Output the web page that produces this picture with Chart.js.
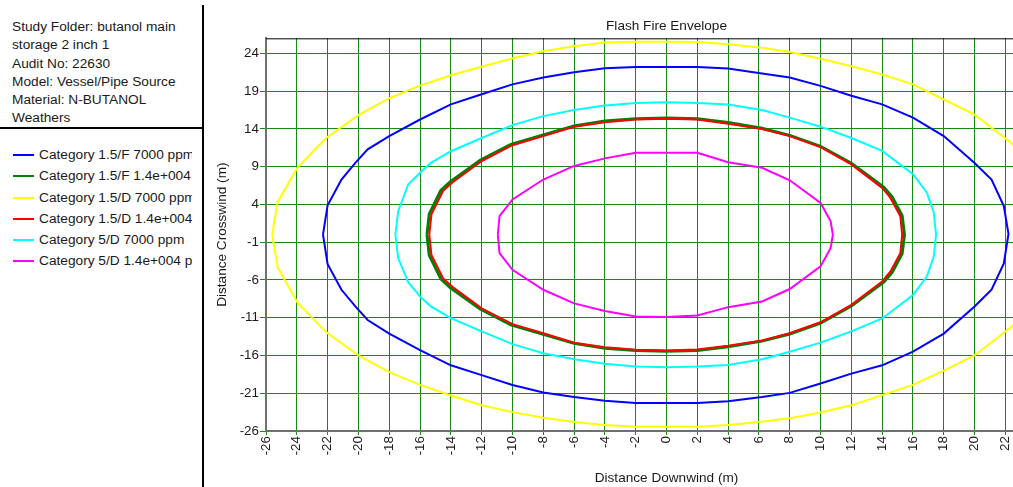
<!DOCTYPE html>
<html>
<head>
<meta charset="utf-8">
<title>Flash Fire Envelope</title>
<script src="https://cdn.jsdelivr.net/npm/chart.js@4.4.0/dist/chart.umd.min.js"></script>
<style>
    html, body {
        margin: 0;
        padding: 0;
        width: 1013px;
        height: 487px;
        overflow: hidden;
        background: #fff;
        font-family: 'Liberation Sans', Arial, sans-serif;
        color: #1a1a1a;
    }
    .info {
        position: absolute;
        left: 12px;
        top: 18px;
        font-size: 13.7px;
        line-height: 18.3px;
        white-space: nowrap;
    }
    .rule-h {
        position: absolute;
        left: 0;
        top: 127px;
        width: 204px;
        height: 2px;
        background: #000;
    }
    .rule-v {
        position: absolute;
        left: 202px;
        top: 5px;
        width: 2px;
        height: 482px;
        background: #000;
    }
    .legend {
        position: absolute;
        left: 13px;
        top: 144px;
        width: 179px;
        overflow: hidden;
        font-size: 13.7px;
    }
    .legend-row {
        position: relative;
        height: 21.3px;
        line-height: 21.3px;
        white-space: nowrap;
    }
    .legend-row span.swatch {
        position: absolute;
        left: 0;
        top: 10px;
        width: 21px;
        height: 2px;
    }
    .legend-row span.label {
        position: absolute;
        left: 26px;
    }
    .chart-box {
        position: absolute;
        left: 205px;
        top: 0;
    }
</style>
</head>
<body>
<div class="info" id="info"></div>
<div class="rule-h"></div>
<div class="rule-v"></div>
<div class="legend" id="legend"></div>
<div class="chart-box"><canvas id="envelopeChart" width="862" height="487"></canvas></div>

<script>
// Header text of the study panel
const infoLines = [
    'Study Folder: butanol main',
    'storage 2 inch 1',
    'Audit No: 22630',
    'Model: Vessel/Pipe Source',
    'Material: N-BUTANOL',
    'Weathers'
];

// Axis ticks
const xTicks = [-26, -24, -22, -20, -18, -16, -14, -12, -10, -8, -6, -4, -2, 0, 2, 4, 6, 8, 10, 12, 14, 16, 18, 20, 22, 24, 26];
const yTicks = [-26, -21, -16, -11, -6, -1, 4, 9, 14, 19, 24];

// Series names (legend order)
const seriesNames = [
    'Category 1.5/F 7000 ppm',
    'Category 1.5/F 1.4e+004 ppm',
    'Category 1.5/D 7000 ppm',
    'Category 1.5/D 1.4e+004 ppm',
    'Category 5/D 7000 ppm',
    'Category 5/D 1.4e+004 ppm'
];

// Envelope outlines, [downwind m, crosswind m]
const f15Low = [
    [-22.3, 0], [-22.0, 3.9], [-21.1, 7.3], [-20.2, 9.5], [-19.4, 11.3], [-18.0, 13.05], [-16.0, 15.25],
    [-14.0, 17.25], [-12.0, 18.6], [-10.0, 19.9], [-8.0, 20.8], [-6.0, 21.5], [-4.0, 22.05], [-2.0, 22.2],
    [0, 22.2], [2.0, 22.2], [4.0, 22.0], [6.2, 21.35], [8.0, 20.8], [10.0, 19.7], [12.0, 18.4],
    [14.0, 17.25], [16.0, 15.5], [18.0, 13.05], [20.0, 9.5], [21.1, 7.3], [21.9, 3.8], [22.2, 0.1],
    [21.9, -3.8], [21.1, -7.3], [20.0, -9.5], [18.0, -13.1], [16.0, -15.5], [14.0, -17.3], [12.0, -18.4],
    [10.0, -19.7], [8.0, -20.95], [6.2, -21.5], [4.0, -22.05], [2.0, -22.3], [0, -22.3], [-2.0, -22.3],
    [-4.0, -22.0], [-6.0, -21.5], [-8.0, -20.9], [-10.0, -19.9], [-12.0, -18.6], [-14.0, -17.3],
    [-16.0, -15.3], [-18.0, -13.1], [-19.4, -11.3], [-20.2, -9.5], [-21.1, -7.3], [-22.0, -3.9], [-22.3, 0]
];
const f15High = [
    [-15.55, 0], [-15.4, 2.75], [-14.65, 5.85], [-14.05, 7.0], [-12.1, 9.85], [-10.1, 11.95], [-8.0, 13.2],
    [-6.0, 14.4], [-4.0, 15.05], [-2.0, 15.35], [0, 15.45], [2.0, 15.35], [4.0, 14.85], [6.2, 14.1],
    [8.0, 13.15], [10.0, 11.7], [12.0, 9.45], [14.1, 6.3], [14.65, 5.0], [15.3, 2.5], [15.45, 0],
    [15.3, -2.5], [14.65, -5.0], [14.1, -6.3], [12.0, -9.45], [10.0, -11.7], [8.0, -13.15], [6.2, -14.1],
    [4.0, -14.85], [2.0, -15.35], [0, -15.45], [-2.0, -15.35], [-4.0, -15.05], [-6.0, -14.4], [-8.0, -13.2],
    [-10.1, -11.95], [-12.1, -9.85], [-14.05, -7.0], [-14.65, -5.85], [-15.4, -2.75], [-15.55, 0]
];
const d15Low = [
    [-25.6, 0], [-25.25, 4.3], [-23.95, 8.9], [-22.1, 12.8], [-19.95, 15.9], [-17.95, 18.1], [-16.05, 19.7],
    [-14.0, 21.1], [-11.9, 22.3], [-9.9, 23.4], [-8.0, 24.3], [-6.0, 24.95], [-4.0, 25.45], [-2.0, 25.55],
    [0, 25.55], [2.0, 25.5], [4.0, 25.2], [6.2, 24.75], [8.0, 24.2], [10.0, 23.3], [12.0, 22.3],
    [14.0, 21.2], [16.0, 19.9], [18.0, 17.9], [20.0, 15.9], [22.4, 12.1], [24.0, 8.6], [25.2, 4.3],
    [25.5, 0], [25.2, -4.3], [24.0, -8.6], [22.4, -12.2], [20.0, -16.0], [18.0, -18.0], [16.0, -19.9],
    [14.0, -21.25], [12.0, -22.6], [10.0, -23.55], [8.0, -24.3], [6.0, -24.8], [4.0, -25.2], [2.0, -25.45],
    [0, -25.45], [-2.0, -25.45], [-4.0, -25.2], [-6.0, -24.8], [-8.0, -24.25], [-10.0, -23.5], [-12.0, -22.6],
    [-14.0, -21.3], [-16.0, -19.9], [-18.0, -18.2], [-20.0, -16.0], [-22.1, -12.9], [-23.95, -9.0],
    [-25.25, -4.3], [-25.6, 0]
];
const d15High = [
    [-15.4, 0], [-15.26, 2.7], [-14.5, 5.8], [-13.9, 6.9], [-12.0, 9.75], [-10.0, 11.85], [-8.0, 13.05],
    [-6.0, 14.3], [-4.0, 14.9], [-2.0, 15.25], [0, 15.35], [2.0, 15.25], [4.0, 14.7], [6.2, 14.0],
    [8.0, 13.05], [10.0, 11.6], [12.0, 9.3], [14.0, 6.2], [14.53, 4.9], [15.18, 2.45], [15.3, 0],
    [15.18, -2.45], [14.53, -4.9], [14.0, -6.2], [12.0, -9.3], [10.0, -11.6], [8.0, -13.05], [6.2, -14.0],
    [4.0, -14.7], [2.0, -15.2], [0, -15.35], [-2.0, -15.25], [-4.0, -14.9], [-6.0, -14.3], [-8.0, -13.05],
    [-10.0, -11.85], [-12.0, -9.75], [-13.9, -6.9], [-14.5, -5.8], [-15.26, -2.7], [-15.4, 0]
];
const d5Low = [
    [-17.6, 0], [-17.42, 3.1], [-16.77, 6.65], [-16.0, 8.2], [-15.3, 9.5], [-14.0, 11.05], [-12.0, 12.8],
    [-10.0, 14.5], [-8.0, 15.7], [-6.0, 16.5], [-4.0, 17.1], [-2.0, 17.45], [0, 17.55], [2.0, 17.45],
    [4.0, 17.25], [6.2, 16.5], [8.0, 15.5], [10.0, 14.3], [12.0, 12.8], [14.0, 11.1], [16.0, 8.0],
    [16.9, 5.55], [17.35, 2.9], [17.5, 0], [17.35, -2.9], [16.9, -5.55], [16.0, -8.0], [14.0, -11.1],
    [12.0, -12.8], [10.0, -14.3], [8.0, -15.5], [6.2, -16.5], [4.0, -17.25], [2.0, -17.45], [0, -17.55],
    [-2.0, -17.45], [-4.0, -17.1], [-6.0, -16.5], [-8.0, -15.7], [-10.0, -14.5], [-12.0, -12.8],
    [-14.0, -11.05], [-15.3, -9.5], [-16.0, -8.2], [-16.77, -6.3], [-17.42, -3.1], [-17.6, 0]
];
const d5High = [
    [-10.95, 0], [-10.84, 2.45], [-10.0, 4.66], [-8.0, 7.3], [-6.0, 9.1], [-4.0, 10.1], [-2.0, 10.85],
    [0, 10.85], [2.0, 10.85], [4.0, 9.6], [6.2, 8.85], [8.0, 7.2], [10.0, 4.2], [10.65, 1.8], [10.8, 0],
    [10.65, -1.8], [10.0, -4.2], [8.0, -7.2], [6.2, -8.85], [4.0, -9.6], [2.0, -10.7], [0, -10.9],
    [-2.0, -10.85], [-4.0, -10.1], [-6.0, -9.1], [-8.0, -7.3], [-10.0, -4.66], [-10.84, -2.45], [-10.95, 0]
];

const seriesData = [f15Low, f15High, d15Low, d15High, d5Low, d5High];
const seriesColors = ['#0000ff', '#008000', '#ffff00', '#ff0000', '#00ffff', '#ff00ff'];
const seriesWidths = [2, 3, 2, 2, 2, 2];

const fontFamily = "'Liberation Sans', Arial, sans-serif";
const gridGreen = '#148c14';

document.addEventListener('DOMContentLoaded', () => {
    // Study info text
    document.getElementById('info').innerHTML = infoLines.map(l => `<div>${l}</div>`).join('');

    // Legend in the left panel
    const legend = document.getElementById('legend');
    seriesNames.forEach((name, i) => {
        const row = document.createElement('div');
        row.className = 'legend-row';
        row.innerHTML = `<span class="swatch" style="background:${seriesColors[i]}"></span><span class="label">${name}</span>`;
        legend.appendChild(row);
    });

    initEnvelopeChart();
});

// Draws the black frame line on the top of the plot
const topFrame = {
    id: 'topFrame',
    afterDraw(chart) {
        const { ctx, chartArea } = chart;
        ctx.save();
        ctx.strokeStyle = '#000';
        ctx.lineWidth = 1;
        ctx.beginPath();
        ctx.moveTo(chartArea.left, chartArea.top + 0.5);
        ctx.lineTo(chartArea.right, chartArea.top + 0.5);
        ctx.stroke();
        ctx.restore();
    }
};

function initEnvelopeChart() {
    const ctx = document.getElementById('envelopeChart').getContext('2d');

    Chart.defaults.font.family = fontFamily;
    Chart.defaults.font.size = 13.4;
    Chart.defaults.color = '#1a1a1a';

    new Chart(ctx, {
        type: 'scatter',
        data: {
            datasets: seriesData.map((pts, i) => ({
                label: seriesNames[i],
                data: pts.map(p => ({ x: p[0], y: p[1] })),
                showLine: true,
                borderColor: seriesColors[i],
                borderWidth: seriesWidths[i],
                pointRadius: 0,
                tension: 0,
                fill: false,
                // red drawn above the green one
                order: i === 3 ? 0 : 1
            }))
        },
        options: {
            responsive: false,
            animation: false,
            layout: { padding: 0 },
            plugins: {
                legend: { display: false },
                tooltip: { enabled: false },
                title: {
                    display: true,
                    text: 'Flash Fire Envelope',
                    fullSize: false,
                    color: '#1a1a1a',
                    font: { size: 13.6, weight: 'normal' },
                    padding: { top: 18, bottom: 4 }
                }
            },
            scales: {
                x: {
                    type: 'linear',
                    min: -26,
                    max: 26,
                    afterBuildTicks: (scale) => {
                        scale.ticks = xTicks.map(v => ({ value: v }));
                    },
                    afterFit: (scale) => {
                        scale.height = 56;
                        scale.paddingLeft = 0;
                        scale.paddingRight = 0;
                    },
                    ticks: {
                        autoSkip: false,
                        minRotation: 90,
                        maxRotation: 90,
                        padding: 1
                    },
                    grid: {
                        color: gridGreen,
                        lineWidth: 1,
                        tickLength: 4
                    },
                    border: {
                        color: '#707070',
                        width: 2
                    },
                    title: {
                        display: true,
                        text: 'Distance Downwind (m)',
                        color: '#1a1a1a',
                        font: { size: 13.6 },
                        padding: { top: 0, bottom: 1 }
                    }
                },
                y: {
                    type: 'linear',
                    min: -26,
                    max: 26,
                    afterBuildTicks: (scale) => {
                        scale.ticks = yTicks.map(v => ({ value: v }));
                    },
                    afterFit: (scale) => {
                        scale.width = 61;
                        scale.paddingTop = 0;
                        scale.paddingBottom = 0;
                    },
                    ticks: {
                        padding: 1
                    },
                    grid: {
                        color: gridGreen,
                        lineWidth: 1,
                        tickLength: 6
                    },
                    border: {
                        color: '#707070',
                        width: 2
                    },
                    title: {
                        display: true,
                        text: 'Distance Crosswind (m)',
                        color: '#1a1a1a',
                        font: { size: 13.6 },
                        padding: { top: 9, bottom: 0 }
                    }
                }
            }
        },
        plugins: [topFrame]
    });
}
</script>
</body>
</html>
